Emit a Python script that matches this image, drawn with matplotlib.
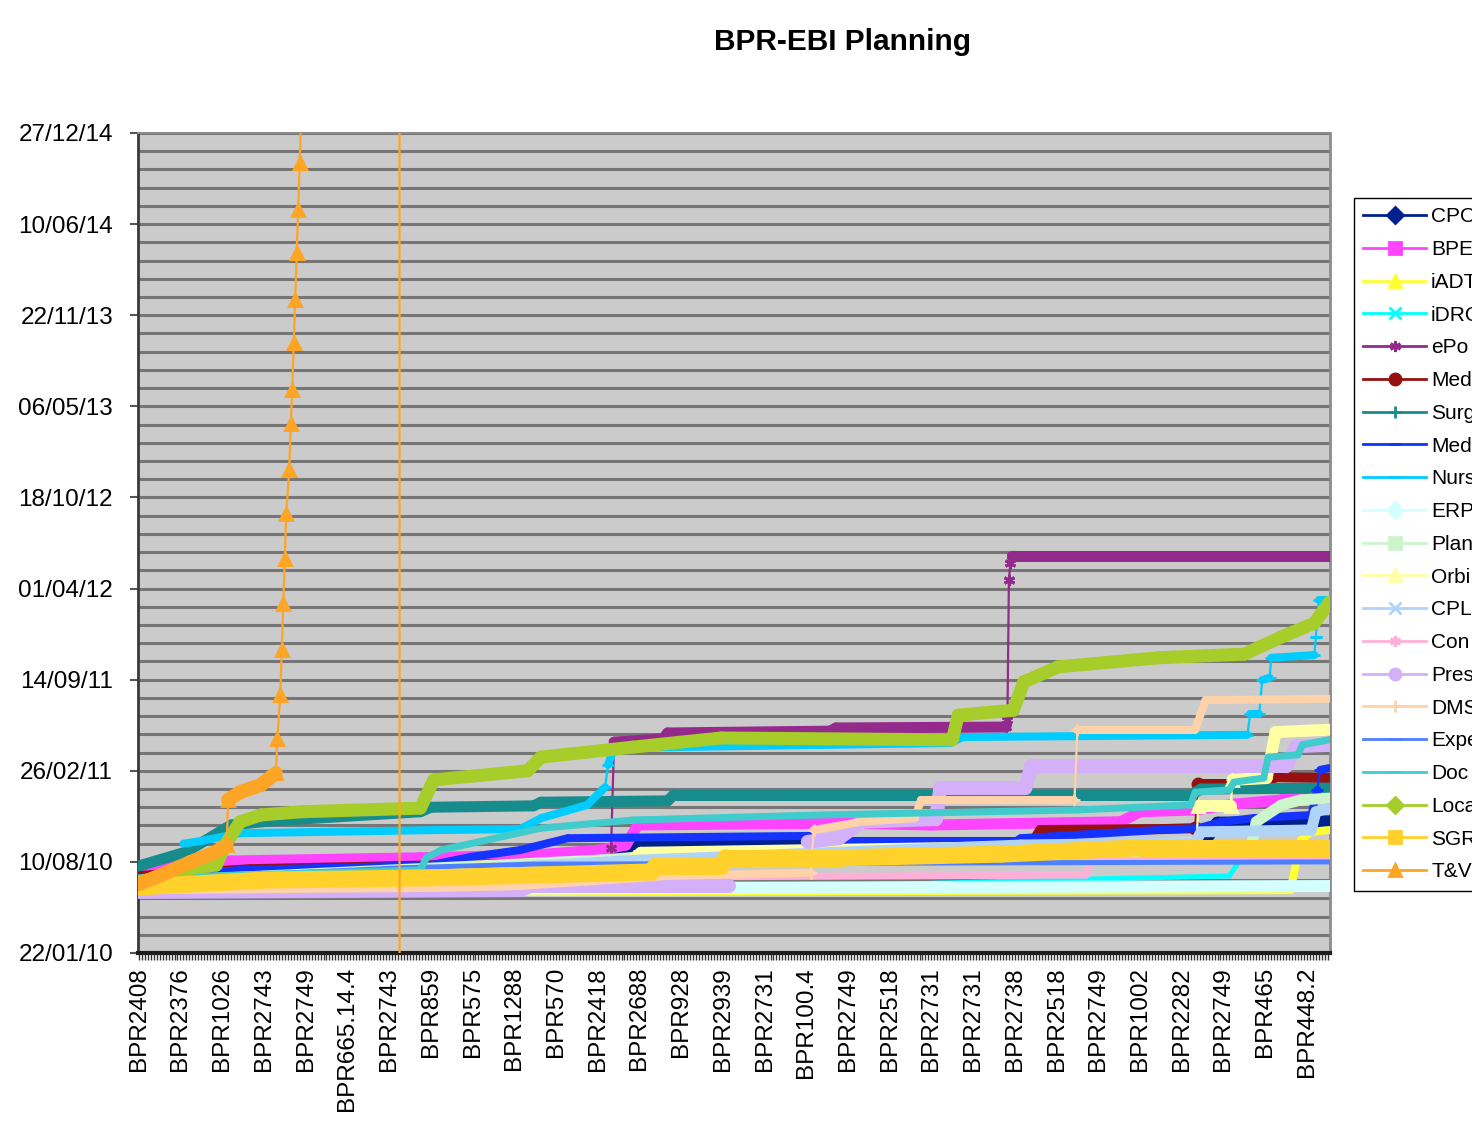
import numpy as np
import pandas as pd
import matplotlib
matplotlib.use('Agg')
import matplotlib.pyplot as plt
from matplotlib.collections import LineCollection
from matplotlib.lines import Line2D
from matplotlib.ticker import FixedLocator, FuncFormatter

plt.rcParams['font.family'] = ['Liberation Sans', 'DejaVu Sans']

# categories along x (one per BPR item), label shown every 28th
n_categories = 800
label_every = 28
tick_labels = ['BPR2408', 'BPR2376', 'BPR1026', 'BPR2743', 'BPR2749', 'BPR665.14.4',
               'BPR2743', 'BPR859', 'BPR575', 'BPR1288', 'BPR570', 'BPR2418',
               'BPR2688', 'BPR928', 'BPR2939', 'BPR2731', 'BPR100.4', 'BPR2749',
               'BPR2518', 'BPR2731', 'BPR2731', 'BPR2738', 'BPR2518', 'BPR2749',
               'BPR1002', 'BPR2282', 'BPR2749', 'BPR465', 'BPR448.2']

# y values are Excel date serials (40200 = 22/01/10); x = category index
cpo_x = [0, 68, 310, 327, 330, 451, 454, 713, 724, 799]
cpo_y = [40369, 40391, 40404, 40426, 40442, 40442, 40437, 40437, 40485, 40488]
bpe_x = [0, 62, 189, 265, 310, 327, 335, 471, 532, 659, 672, 709, 736, 767, 773, 799]
bpe_y = [40382, 40402, 40409, 40415, 40426, 40437, 40481, 40485, 40481, 40488, 40510, 40514, 40527, 40536, 40551, 40551]
iadt_x = [0, 773, 780, 787, 799]
iadt_y = [40332, 40338, 40448, 40466, 40470]
idrc_x = [0, 511, 634, 732, 740, 799]
idrc_y = [40338, 40351, 40362, 40369, 40409, 40411]
epo_x = [317, 319, 352, 355, 464, 468, 582, 583, 584, 585, 586, 799]
epo_y = [40431, 40663, 40670, 40683, 40687, 40694, 40696, 40711, 41019, 41056, 41071, 41071]
med1_x = [0, 75, 444, 452, 470, 475, 600, 605, 687, 709, 711, 733, 759, 762, 799]
med1_y = [40369, 40384, 40409, 40433, 40433, 40444, 40444, 40470, 40472, 40474, 40571, 40571, 40571, 40586, 40584]
surg_x = [0, 32, 62, 89, 189, 196, 265, 270, 355, 359, 706, 713, 799]
surg_y = [40391, 40422, 40481, 40490, 40510, 40520, 40523, 40531, 40534, 40547, 40547, 40560, 40562]
med2_x = [0, 68, 196, 223, 256, 288, 451, 454, 588, 592, 685, 711, 727, 748, 787, 791, 793, 799]
med2_y = [40365, 40382, 40393, 40411, 40426, 40452, 40457, 40444, 40444, 40452, 40470, 40474, 40488, 40496, 40503, 40558, 40602, 40606]
nurs_x = [30, 42, 68, 203, 256, 270, 301, 313, 315, 319, 545, 553, 744, 746, 752, 754, 759, 760, 789, 790, 792, 799]
nurs_y = [40440, 40446, 40463, 40470, 40472, 40496, 40525, 40564, 40613, 40650, 40661, 40674, 40679, 40725, 40725, 40799, 40804, 40848, 40854, 40894, 40975, 40975]
erp_x = [0, 364, 799]
erp_y = [40338, 40343, 40347]
plan_x = [0, 310, 344, 746, 750, 767, 780, 799]
plan_y = [40356, 40404, 40413, 40422, 40488, 40525, 40536, 40540]
orbi_x = [0, 330, 337, 679, 710, 711, 733, 734, 757, 763, 799]
orbi_y = [40349, 40400, 40420, 40437, 40442, 40523, 40523, 40580, 40584, 40685, 40690]
cpl_x = [0, 337, 592, 709, 713, 787, 790, 799]
cpl_y = [40343, 40404, 40437, 40442, 40466, 40470, 40510, 40518]
con_x = [0, 350, 357, 636, 639, 799]
con_y = [40338, 40349, 40367, 40371, 40404, 40404]
pres_x = [0, 256, 263, 396, np.nan, 449, 470, 485, 515, 535, 538, 595, 599, 770, 777, 799]
pres_y = [40334, 40338, 40347, 40347, np.nan, 40444, 40452, 40488, 40492, 40494, 40562, 40562, 40610, 40610, 40654, 40657]
dms_x = [0, 203, 256, 355, 451, 453, 485, 521, 525, 628, 630, 709, 716, 799]
dms_y = [40338, 40343, 40347, 40369, 40376, 40470, 40488, 40496, 40536, 40536, 40690, 40690, 40755, 40758]
expe_x = [0, 176, 265, 799]
expe_y = [40360, 40387, 40395, 40400]
doc_x = [0, 189, 193, 203, 270, 332, 458, 630, 706, 709, 732, 735, 755, 758, 778, 781, 799]
doc_y = [40365, 40382, 40409, 40426, 40474, 40492, 40503, 40514, 40525, 40553, 40558, 40575, 40584, 40630, 40635, 40657, 40668]
loca_x = [0, 38, 52, 58, 68, 82, 109, 189, 198, 261, 270, 332, 391, 546, 550, 587, 594, 617, 684, 742, 767, 789, 799]
loca_y = [40356, 40387, 40393, 40437, 40488, 40503, 40510, 40518, 40580, 40600, 40630, 40652, 40672, 40668, 40722, 40733, 40795, 40828, 40848, 40856, 40894, 40924, 40970]
sgr_x = [0, 84, 196, 344, 347, 391, 394, 471, 579, 672, 799]
sgr_y = [40345, 40360, 40365, 40378, 40391, 40391, 40409, 40409, 40417, 40431, 40431]
tv_x = [0, 15, 35, 52, 59, 60, 68, 82, 92, 93, 95, 96, 97, 98, 99, 101, 102, 103, 104, 105, 106, 107, 108, 109, 175, 176]
tv_y = [40351, 40371, 40400, 40422, 40437, 40536, 40553, 40569, 40595, 40670, 40766, 40865, 40966, 41065, 41164, 41260,
        41361, 41436, 41539, 41633, 41737, 41831, 41934, 42040, 42040, 0]

# name, x, y, colour, marker, width of the marker band (px)
series = [
    ('CPO', cpo_x, cpo_y, '#00208f', 'D', 13),
    ('BPE', bpe_x, bpe_y, '#ff44ff', 's', 11),
    ('iADT', iadt_x, iadt_y, '#ffff33', '^', 8),
    ('iDRC', idrc_x, idrc_y, '#00ffff', 'x', 5),
    ('ePo', epo_x, epo_y, '#952a8d', (6, 2, 0), 11),
    ('Med', med1_x, med1_y, '#961010', 'o', 10),
    ('Surg', surg_x, surg_y, '#178c8c', '+', 11),
    ('Med', med2_x, med2_y, '#1433ff', '_', 8),
    ('Nurs', nurs_x, nurs_y, '#00ccff', '_', 8),
    ('ERP', erp_x, erp_y, '#d4ffff', 'D', 12),
    ('Plan', plan_x, plan_y, '#ccf5cc', 's', 11),
    ('Orbi', orbi_x, orbi_y, '#ffffa6', '^', 12),
    ('CPL', cpl_x, cpl_y, '#b0d4f8', 'x', 11),
    ('Con', con_x, con_y, '#ffb0d8', (6, 2, 0), 7),
    ('Pres', pres_x, pres_y, '#d4b0f8', 'o', 14),
    ('DMS', dms_x, dms_y, '#ffd2aa', '+', 8),
    ('Expe', expe_x, expe_y, '#4d7fff', '_', 5),
    ('Doc', doc_x, doc_y, '#40cccc', '_', 7),
    ('Loca', loca_x, loca_y, '#a6cd2a', 'D', 13),
    ('SGR', sgr_x, sgr_y, '#ffd12a', 's', 17),
    ('T&V', tv_x, tv_y, '#ffa526', '^', 14),
]

fig = plt.figure(figsize=(14.72, 11.34), dpi=100)
ax = fig.add_axes([138 / 1472, 1 - 953 / 1134, 1192 / 1472, 820 / 1134])
ax.set_facecolor('#cbcbcb')

for k, (name, xs, ys, color, marker, band) in enumerate(series):
    xs = np.asarray(xs, float)
    ys = np.asarray(ys, float)
    thick, thin, ends = [], [], []
    for j in range(len(xs) - 1):
        if np.isnan(xs[j]) or np.isnan(xs[j + 1]):
            continue
        seg = [(xs[j], ys[j]), (xs[j + 1], ys[j + 1])]
        if xs[j + 1] - xs[j] <= 2:
            thin.append(seg)
            ends += seg
        else:
            thick.append(seg)
    z = 3 + k * 0.1
    ax.add_collection(LineCollection(thick, colors=color, linewidths=band * 0.72,
                                     capstyle='round', joinstyle='round', zorder=z))
    ax.add_collection(LineCollection(thin, colors=color, linewidths=1.6, zorder=z))
    if ends:
        ex, ey = zip(*ends)
        ax.plot(ex, ey, ls='none', marker=marker, color=color, ms=8, mew=2, zorder=z)

ax.set_xlim(-0.5, n_categories - 0.5)
ax.set_ylim(40200, 42000)

ax.set_xticks(np.arange(0, n_categories, label_every))
ax.set_xticklabels(tick_labels, rotation=90, fontsize=17.5)
ax.set_xticks(np.arange(0, n_categories, 2), minor=True)
ax.tick_params(axis='x', which='both', direction='out', length=5, width=1,
               color='#333333', pad=5)

ax.yaxis.set_major_locator(FixedLocator(np.arange(40200, 42001, 200)))
ax.yaxis.set_minor_locator(FixedLocator(np.arange(40200, 42001, 40)))
ax.yaxis.set_major_formatter(FuncFormatter(
    lambda v, p: (pd.Timestamp('1899-12-30') + pd.Timedelta(days=v)).strftime('%d/%m/%y')))
ax.tick_params(axis='y', which='major', direction='out', length=6, width=1.5,
               color='#555555', labelsize=17.5, pad=12)
ax.tick_params(axis='y', which='minor', length=0)
ax.yaxis.grid(True, which='both', color='#767676', lw=2.2)
ax.set_axisbelow(True)

ax.spines['left'].set_color('#3a3a3a')
ax.spines['left'].set_linewidth(2)
ax.spines['bottom'].set_color('#1e1e1e')
ax.spines['bottom'].set_linewidth(3)
ax.spines['top'].set_color('#8c8c8c')
ax.spines['top'].set_linewidth(1.5)
ax.spines['right'].set_color('#8c8c8c')
ax.spines['right'].set_linewidth(2)

fig.text(843 / 1472, 1 - 42 / 1134, 'BPR-EBI Planning', ha='center', va='center',
         fontsize=21.5, fontweight='bold')

handles = [Line2D([], [], color=c, lw=2, marker=m, ms=8, mew=2) for _, _, _, c, m, _ in series]
labels = [s[0] for s in series]
fig.legend(handles, labels, loc='upper left', bbox_to_anchor=(1354 / 1472, 1 - 198 / 1134),
           fontsize=15, handlelength=3.0, handletextpad=0.25, labelspacing=0.66,
           borderpad=0.45, borderaxespad=0, frameon=True, fancybox=False,
           edgecolor='black', framealpha=1)

fig.savefig('out.png', dpi=100)
